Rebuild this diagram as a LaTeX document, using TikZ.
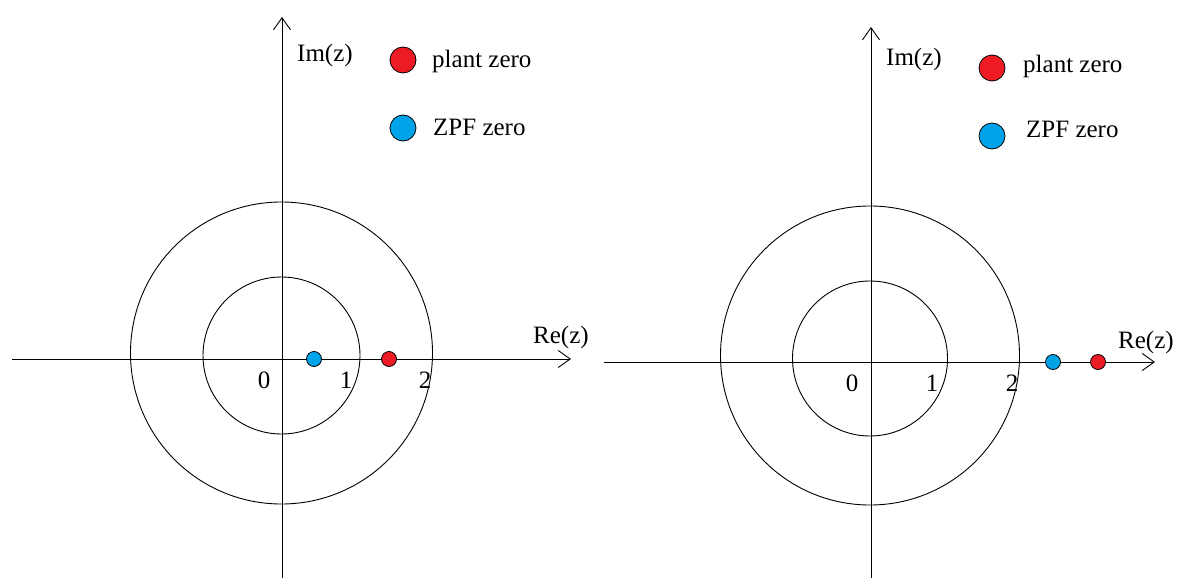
\documentclass[tikz,border=0pt]{standalone}
\usepackage{fontspec}
\setmainfont{Liberation Serif}
\usetikzlibrary{arrows.meta}
\definecolor{pzred}{HTML}{ED1C24}
\definecolor{zpfblue}{HTML}{00A2E8}
\begin{document}
\begin{tikzpicture}[x=1pt,y=-1pt,
  axis/.style={line width=1pt,-{Straight Barb[length=12pt,width=17pt,line width=0.9pt]}},
  ring/.style={line width=0.9pt},
  zdot/.style={circle,draw=black,line width=0.8pt,inner sep=0pt,minimum size=15pt},
  ldot/.style={circle,draw=black,line width=0.8pt,inner sep=0pt,minimum size=26pt},
  lbl/.style={font=\fontsize{25}{28}\selectfont,inner sep=0pt},
]
\useasboundingbox (0,0) rectangle (1183,578);
% ---------- left panel ----------
\coordinate (LxS) at (12,359);
\coordinate (LxE) at (571,359);
\coordinate (LyS) at (282,578);
\coordinate (LyE) at (282,17);
\coordinate (LOo) at (281.5,353);
\coordinate (LOi) at (281.5,355.5);
\draw[axis] (LxS) -- (LxE);
\draw[axis] (LyS) -- (LyE);
\draw[ring] (LOo) circle[radius=151pt];
\draw[ring] (LOi) circle[radius=78.5pt];
\node[zdot,fill=zpfblue] (Lb) at (314,359) {};
\node[zdot,fill=pzred] (Lr) at (389,359) {};
\node[lbl] (L0) at (264,380) {0};
\node[lbl] (L1) at (346,380) {1};
\node[lbl] (L2) at (425,380) {2};
\node[lbl,anchor=base west] (LRe) at (533,343) {Re(z)};
\node[lbl,anchor=base west] (LIm) at (297,62) {Im(z)};
\node[ldot,fill=pzred] (Llr) at (403,60) {};
\node[ldot,fill=zpfblue] (Llb) at (403,128) {};
\node[lbl,anchor=base west] (Llrt) at (432,67) {plant zero};
\node[lbl,anchor=base west] (Llbt) at (433,135) {ZPF zero};
% ---------- right panel ----------
\coordinate (RxS) at (604,362);
\coordinate (RxE) at (1155,362);
\coordinate (RyS) at (871,578);
\coordinate (RyE) at (871,27);
\coordinate (ROo) at (870,355.5);
\coordinate (ROi) at (870,358.5);
\draw[axis] (RxS) -- (RxE);
\draw[axis] (RyS) -- (RyE);
\draw[ring] (ROo) circle[radius=149.5pt];
\draw[ring] (ROi) circle[radius=77.5pt];
\node[zdot,fill=zpfblue] (Rb) at (1053,362) {};
\node[zdot,fill=pzred] (Rr) at (1098,362) {};
\node[lbl] (R0) at (852,383) {0};
\node[lbl] (R1) at (932,383) {1};
\node[lbl] (R2) at (1012,383) {2};
\node[lbl,anchor=base west] (RRe) at (1118,348) {Re(z)};
\node[lbl,anchor=base west] (RIm) at (886,66) {Im(z)};
\node[ldot,fill=pzred] (Rlr) at (992,68) {};
\node[ldot,fill=zpfblue] (Rlb) at (992,136) {};
\node[lbl,anchor=base west] (Rlrt) at (1023,73) {plant zero};
\node[lbl,anchor=base west] (Rlbt) at (1026,137) {ZPF zero};
\end{tikzpicture}
\end{document}
